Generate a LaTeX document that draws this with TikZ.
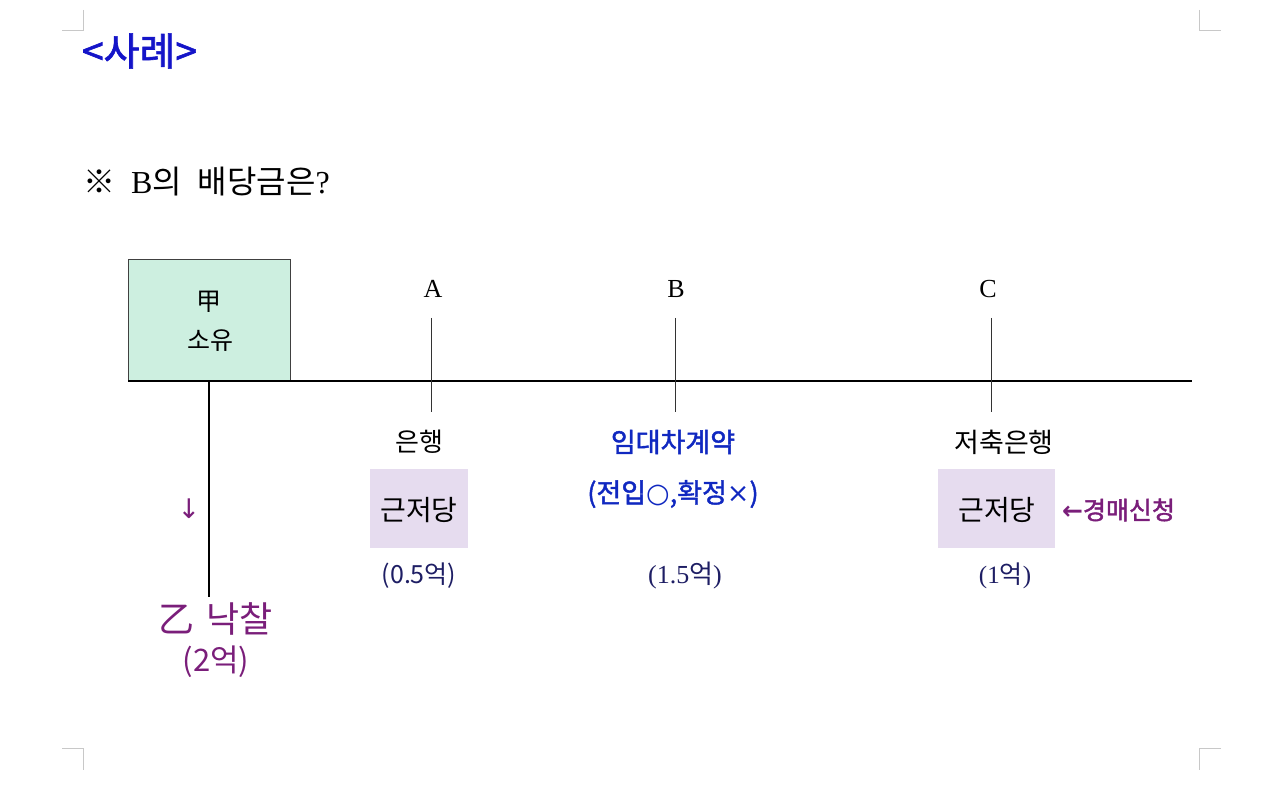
\documentclass[tikz,border=0pt]{standalone}
\usepackage{fontspec}
\setmainfont{Liberation Serif}
\newfontfamily\kr{Noto Sans CJK KR}
\newfontfamily\krmed[FakeBold=1.6]{Noto Sans CJK KR}
\newfontfamily\djv{DejaVu Sans}
\definecolor{titleblue}{HTML}{1414C8}
\definecolor{leaseblue}{HTML}{1028C0}
\definecolor{navy}{HTML}{1E1E64}
\definecolor{purp}{HTML}{7A1E7A}
\definecolor{mint}{HTML}{CDEFE0}
\definecolor{lav}{HTML}{E6DCEF}
\definecolor{mark}{HTML}{C8C8C8}
\begin{document}
\begin{tikzpicture}[x=1pt,y=-1pt,
  every node/.style={inner sep=0pt,outer sep=0pt,anchor=center},
  lbl/.style={font=\kr\fontsize{26}{28}\selectfont},
  letter/.style={font=\fontsize{26}{28}\selectfont},
  tick/.style={line width=1pt,draw=black!80},
  mortbox/.style={fill=lav,draw=none},
  mortlbl/.style={font=\kr\fontsize{28}{30}\selectfont},
  amount/.style={text=navy},
  cropmark/.style={draw=mark,line width=1pt}]
\useasboundingbox (0,0) rectangle (1280,802);
% crop marks
\draw[cropmark] (83,10) -- (83,31) -- (62,31);
\draw[cropmark] (1199,10) -- (1199,31) -- (1221,31);
\draw[cropmark] (62,748) -- (83,748) -- (83,770);
\draw[cropmark] (1221,748) -- (1199,748) -- (1199,770);
% titles
\node[anchor=west,text=titleblue,font=\krmed\fontsize{39}{42}\selectfont] (title) at (82,51) {<사례>};
\node[anchor=west,font=\fontsize{32}{34}\selectfont] (question) at (83,182) {{\kr ※}\ \ B{\kr 의}\ \ {\kr 배당금은}?};
% owner box
\node[draw=black!75,line width=0.8pt,fill=mint,minimum width=162pt,minimum height=122pt] (own) at (209,320) {};
\node[font=\kr\fontsize{25}{28}\selectfont] (gap) at (209,302) {甲};
\node[font=\kr\fontsize{25}{28}\selectfont] (soyu) at (210,341) {소유};
% timeline
\coordinate (tlL) at (128,381);
\coordinate (tlR) at (1192,381);
\draw[line width=2.5pt] (tlL) -- (tlR);
\coordinate (ownbot) at (209,381);
\coordinate (bidtop) at (209,597);
\draw[line width=1.6pt] (ownbot) -- (bidtop);
\node[text=purp,font=\djv\fontsize{27}{28}\selectfont] (down) at (189,509) {↓};
\node[text=purp,font=\kr\fontsize{36}{38}\selectfont] (bid) at (216,619) {乙\hspace{12pt}낙찰};
\node[text=purp,font=\kr\fontsize{31}{33}\selectfont] (bidamt) at (216,662) {(2억)};
% A
\node[letter] (A) at (433,289) {A};
\coordinate (At) at (431,318); \coordinate (Ab) at (431,412);
\draw[tick] (At) -- (Ab);
\node[lbl] (bankA) at (419,442) {은행};
\node[mortbox,minimum width=98pt,minimum height=79pt] (boxA) at (419,508.5) {};
\node[mortlbl] (mA) at (419,510) {근저당};
\node[amount,font=\kr\fontsize{25}{28}\selectfont] (amtA) at (419,576) {(0.5억)};
% B
\node[letter] (B) at (676,289) {B};
\coordinate (Bt) at (675,318); \coordinate (Bb) at (675,412);
\draw[tick] (Bt) -- (Bb);
\node[text=leaseblue,font=\krmed\fontsize{27}{30}\selectfont] (lease) at (673,442) {임대차계약};
\node[text=leaseblue,font=\krmed\fontsize{27}{30}\selectfont] (lease2) at (673,494) {(전입{\djv ○},확정{\djv ×})};
\node[amount,font=\fontsize{26}{28}\selectfont] (amtB) at (685,576) {(1.5{\kr 억})};
% C
\node[letter] (C) at (988,289) {C};
\coordinate (Ct) at (991,318); \coordinate (Cb) at (991,412);
\draw[tick] (Ct) -- (Cb);
\node[font=\kr\fontsize{27}{30}\selectfont] (bankC) at (1004,442) {저축은행};
\node[mortbox,minimum width=117pt,minimum height=79pt] (boxC) at (996.5,508.5) {};
\node[mortlbl] (mC) at (997,510) {근저당};
\node[text=purp,font=\krmed\fontsize{25}{28}\selectfont,anchor=west] (auction) at (1062,510) {{\djv\bfseries ←}경매신청};
\node[amount,font=\fontsize{25}{28}\selectfont] (amtC) at (1005,576) {(1{\kr 억})};
\end{tikzpicture}
\end{document}
